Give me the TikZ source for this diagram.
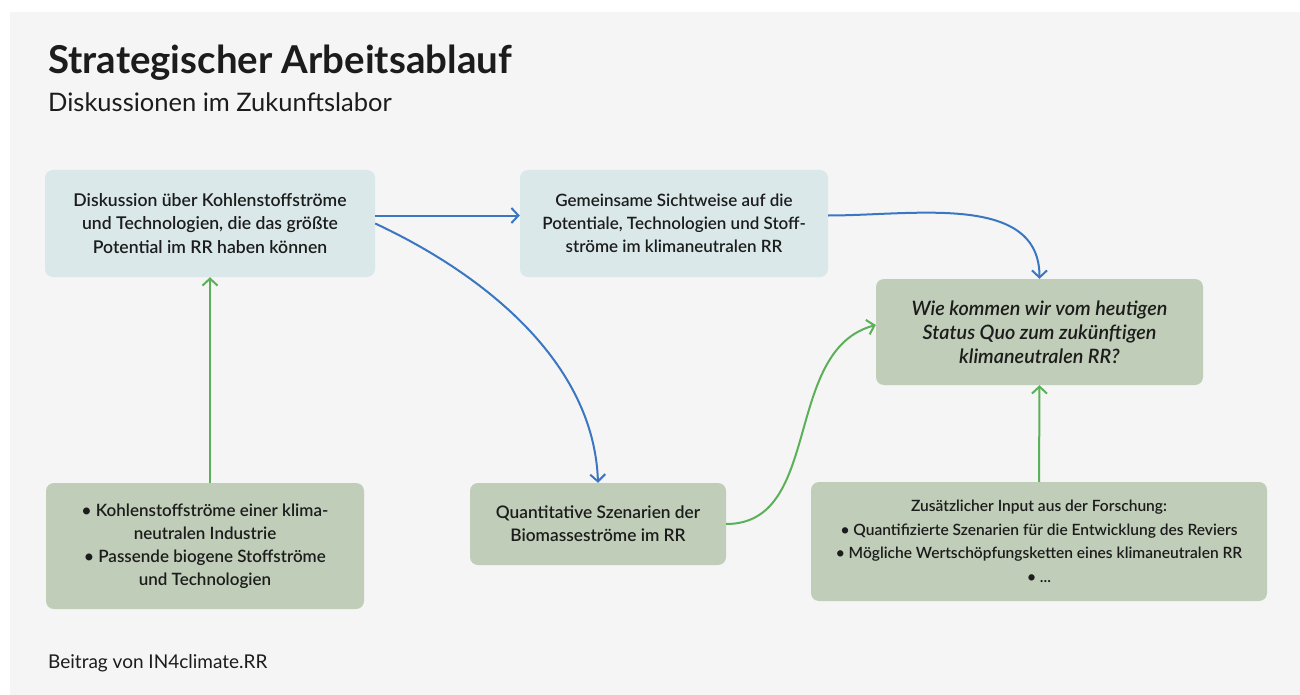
\documentclass[tikz,border=0pt]{standalone}
\usepackage{fontspec}
\setmainfont{Lato}
\newfontfamily\boxtextfont{Lato Semibold}[ItalicFont={Lato Semibold Italic}]
\usepackage{xcolor}
\usepackage{tikz}
\usetikzlibrary{arrows.meta, positioning, calc}
\definecolor{panelgray}{RGB}{245,245,245}
\definecolor{boxblue}{RGB}{218,232,234}
\definecolor{boxgreen}{RGB}{192,205,184}
\definecolor{arrblue}{RGB}{58,118,194}
\definecolor{arrgreen}{RGB}{92,176,90}
\definecolor{inkgray}{RGB}{28,28,28}

\tikzset{
  flowbox/.style={rectangle, rounded corners=8pt, align=center, inner sep=6pt,
                  text=inkgray, font=\boxtextfont\fontsize{17}{23}\selectfont},
  bluebox/.style={flowbox, fill=boxblue},
  greenbox/.style={flowbox, fill=boxgreen},
  bluearrow/.style={draw=arrblue, line width=2pt, -{Straight Barb[length=7pt,width=15pt]}},
  greenarrow/.style={draw=arrgreen, line width=2pt, -{Straight Barb[length=7pt,width=15pt]}}
}

\begin{document}
\begin{tikzpicture}[x=1pt, y=-1pt]
        % page and panel
        \useasboundingbox (0,0) rectangle (1300,695);
        \fill[white] (0,0) rectangle (1300,695);
        \fill[panelgray] (10,12) rectangle (1300,695);

        % heading
        \node[anchor=base west, inner sep=0, text=inkgray,
              font=\fontsize{38.4}{42}\selectfont\bfseries] (title) at (48,74)
              {Strategischer Arbeitsablauf};
        \node[anchor=base west, inner sep=0, text=inkgray,
              font=\fontsize{25.5}{28}\selectfont] (subtitle) at (48,112)
              {Diskussionen im Zukunftslabor};

        % boxes
        \node[bluebox, minimum width=330pt, minimum height=107pt,
              font=\boxtextfont\fontsize{17.6}{23.5}\selectfont] (diskussion) at (210,223.5)
              {Diskussion über Kohlenstoffströme\\
               und Technologien, die das größte\\
               Potential im RR haben können};
        \node[bluebox, minimum width=308pt, minimum height=107pt] (sichtweise) at (674,223.5)
              {Gemeinsame Sichtweise auf die\\
               Potentiale, Technologien und Stoff-\\
               ströme im klimaneutralen RR};
        \node[greenbox, minimum width=327pt, minimum height=106pt,
              font=\boxtextfont\fontsize{19.8}{24}\selectfont\itshape] (frage) at (1039.5,332)
              {Wie kommen wir vom heutigen\\
               Status Quo zum zukünftigen\\
               klimaneutralen RR?};
        \node[greenbox, minimum width=318pt, minimum height=126pt] (stroeme) at (205,546)
              {• Kohlenstoffströme einer klima-\\
               neutralen Industrie\\
               • Passende biogene Stoffströme\\
               und Technologien};
        \node[greenbox, minimum width=256pt, minimum height=82pt,
              font=\boxtextfont\fontsize{17.3}{23}\selectfont] (szenarien) at (598,524)
              {Quantitative Szenarien der\\
               Biomasseströme im RR};
        \node[greenbox, minimum width=456pt, minimum height=119pt,
              font=\boxtextfont\fontsize{15.55}{23.5}\selectfont] (forschung) at (1039,541.5)
              {Zusätzlicher Input aus der Forschung:\\
               • Quantifizierte Szenarien für die Entwicklung des Reviers\\
               • Mögliche Wertschöpfungsketten eines klimaneutralen RR\\
               • ...};

        % connectors
        \draw[bluearrow] ([yshift=8pt]diskussion.east) -- ([yshift=8pt]sichtweise.west);
        \draw[bluearrow] (diskussion.east) to[out=-25, in=92, looseness=0.9] (szenarien.north);
        \draw[bluearrow] ([yshift=8pt]sichtweise.east) to[out=0, in=90] (frage.north);
        \draw[greenarrow] (stroeme.north -| diskussion.south) -- (diskussion.south);
        \draw[greenarrow] (szenarien.east) to[out=0, in=195] ([yshift=7pt]frage.west);
        \draw[greenarrow] (forschung.north) -- (frage.south);

        % footer
        \node[anchor=base west, inner sep=0, text=inkgray,
              font=\fontsize{19}{22}\selectfont] (credit) at (48,668)
              {Beitrag von IN4climate.RR};
      \end{tikzpicture}
\end{document}
